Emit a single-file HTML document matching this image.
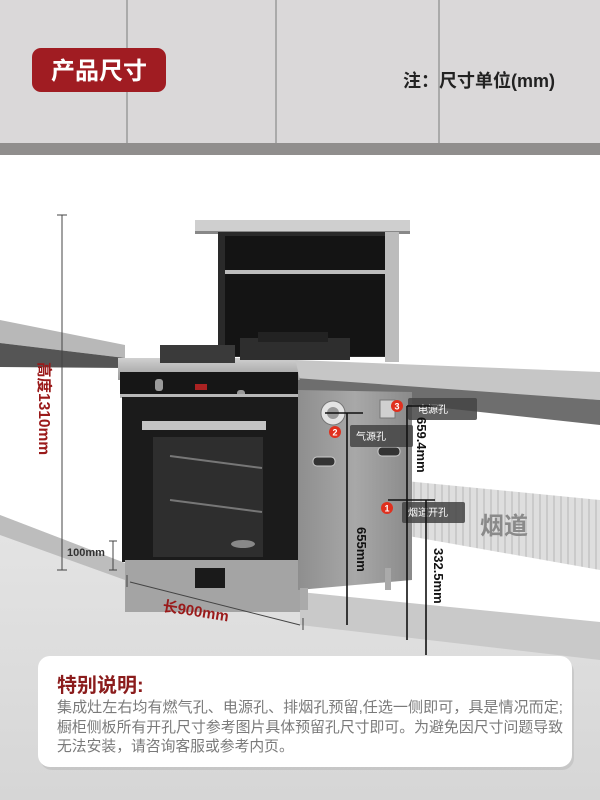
<!DOCTYPE html>
<html><head><meta charset="utf-8"><style>
html,body{margin:0;padding:0;background:#fff}
svg{display:block}
text{font-family:"Liberation Sans","Noto Sans CJK SC",sans-serif}
</style></head><body>
<svg width="600" height="800" viewBox="0 0 600 800" xmlns="http://www.w3.org/2000/svg">
<defs>
<linearGradient id="side" x1="0" x2="1"><stop offset="0" stop-color="#8e8e8e"/><stop offset="0.5" stop-color="#a8a8a8"/><stop offset="1" stop-color="#8a8a8a"/></linearGradient>
<linearGradient id="steel" x1="0" y1="0" x2="0" y2="1"><stop offset="0" stop-color="#d0d0d0"/><stop offset="1" stop-color="#9a9a9a"/></linearGradient>
<linearGradient id="floor" x1="0" y1="0" x2="0" y2="1"><stop offset="0" stop-color="#e4e4e4"/><stop offset="1" stop-color="#d6d6d6"/></linearGradient>
<pattern id="duct" width="7" height="10" patternUnits="userSpaceOnUse"><rect width="7" height="10" fill="#dedede"/><rect width="2" height="10" fill="#cacaca"/></pattern>
</defs>
<rect x="0" y="0" width="600" height="145" fill="#dad8d9"/>
<rect x="0" y="143" width="600" height="12" fill="#908e8d"/>
<line x1="127" y1="0" x2="127" y2="143" stroke="#9a9a9a" stroke-width="1.5"/>
<line x1="276" y1="0" x2="276" y2="143" stroke="#9a9a9a" stroke-width="1.5"/>
<line x1="439" y1="0" x2="439" y2="143" stroke="#9a9a9a" stroke-width="1.5"/>
<rect x="32" y="48" width="134" height="44" rx="9" fill="#a01c22"/>
<text x="99" y="79" text-anchor="middle" font-size="24" font-weight="bold" fill="#fff">产品尺寸</text>
<text x="403" y="87" font-size="18" font-weight="bold" fill="#222">注：尺寸单位(mm)</text>

<polygon points="0,515 125,563 300,600 600,640 600,800 0,800" fill="url(#floor)"/>
<polygon points="0,515 125,563 125,580 0,535" fill="#bdbdbd"/>
<polygon points="300,592 600,622 600,660 300,625" fill="#c9c9c9"/>

<polygon points="0,320 125,345 125,358 0,343" fill="#b8b8b8"/>
<polygon points="0,343 125,358 125,368 0,367" fill="#555"/>
<polygon points="295,360 600,372 600,400 295,380" fill="#c6c6c6"/>
<polygon points="295,378 600,400 600,425 295,392" fill="#6e6e6e"/>

<polygon points="375,478 600,500 600,570 375,530" fill="url(#duct)"/>
<ellipse cx="378" cy="504" rx="10" ry="27" fill="#e2e2e2" stroke="#c4c4c4"/>
<text x="480" y="534" font-size="24" font-weight="bold" fill="#8a8a8a">烟道</text>

<rect x="195" y="220" width="215" height="13" fill="#cfcfcf"/>
<rect x="195" y="231" width="215" height="3" fill="#888"/>
<rect x="218" y="232" width="170" height="125" fill="#2a2a2a"/>
<rect x="225" y="236" width="160" height="120" fill="#141414"/>
<rect x="225" y="270" width="160" height="4" fill="#bdbdbd"/>
<rect x="385" y="232" width="14" height="130" fill="#bcbcbc"/>
<polygon points="118,358 295,358 300,380 118,380" fill="url(#steel)"/>
<rect x="160" y="345" width="75" height="18" fill="#3a3a3a"/>
<rect x="240" y="338" width="110" height="22" fill="#2e2e2e"/>
<rect x="258" y="332" width="70" height="10" fill="#222"/>
<rect x="120" y="372" width="178" height="24" fill="#161616"/>
<rect x="155" y="379" width="8" height="12" rx="3" fill="#9a9a9a"/>
<rect x="237" y="390" width="8" height="12" rx="3" fill="#9a9a9a"/>
<rect x="195" y="384" width="12" height="6" fill="#a22"/>
<rect x="120" y="394" width="178" height="4" fill="#b8b8b8"/>
<rect x="122" y="397" width="176" height="165" fill="#1b1b1b"/>
<rect x="142" y="421" width="124" height="9" fill="#c4c4c4"/>
<rect x="153" y="437" width="110" height="120" fill="#2e2e2e"/>
<line x1="170" y1="456" x2="262" y2="468" stroke="#777" stroke-width="2"/>
<line x1="170" y1="500" x2="262" y2="512" stroke="#777" stroke-width="2"/>
<ellipse cx="243" cy="544" rx="12" ry="4" fill="#888"/>
<rect x="125" y="560" width="175" height="52" fill="#a4a4a4"/>
<rect x="195" y="568" width="30" height="20" fill="#1a1a1a"/>
<polygon points="298,390 412,392 412,580 298,590" fill="url(#side)"/>
<circle cx="333" cy="413" r="12" fill="#e4e4e4" stroke="#777"/>
<circle cx="333" cy="413" r="6" fill="#999"/>
<rect x="313" y="457" width="22" height="9" rx="4" fill="#333" stroke="#ccc"/>
<rect x="378" y="447" width="22" height="9" rx="4" fill="#333" stroke="#ccc"/>
<rect x="380" y="400" width="15" height="18" fill="#d0d0d0" stroke="#777"/>
<rect x="385" y="568" width="6" height="22" fill="#aaa"/>
<rect x="300" y="588" width="8" height="22" fill="#aaa"/>

<rect x="408" y="398" width="69" height="22" rx="2" fill="#444" opacity="0.85"/>
<text x="418" y="413" font-size="10" fill="#fff">电源孔</text>
<rect x="350" y="425" width="63" height="22" rx="2" fill="#444" opacity="0.85"/>
<text x="356" y="440" font-size="10" fill="#fff">气源孔</text>
<rect x="402" y="502" width="63" height="21" rx="2" fill="#444" opacity="0.85"/>
<text x="408" y="516" font-size="10" fill="#fff">烟道开孔</text>
<circle cx="397" cy="406" r="6" fill="#e0301e"/><text x="397" y="409.5" font-size="9" font-weight="bold" fill="#fff" text-anchor="middle">3</text>
<circle cx="335" cy="432" r="6" fill="#e0301e"/><text x="335" y="435.5" font-size="9" font-weight="bold" fill="#fff" text-anchor="middle">2</text>
<circle cx="387" cy="508" r="6" fill="#e0301e"/><text x="387" y="511.5" font-size="9" font-weight="bold" fill="#fff" text-anchor="middle">1</text>

<g stroke="#111" stroke-width="1.6">
<line x1="325" y1="413" x2="363" y2="413"/>
<line x1="347" y1="413" x2="347" y2="625"/>
<line x1="407" y1="406" x2="437" y2="406"/>
<line x1="407" y1="406" x2="407" y2="640"/>
<line x1="388" y1="500" x2="435" y2="500"/>
<line x1="426" y1="500" x2="426" y2="655"/>
</g>
<g stroke="#444" stroke-width="1">
<line x1="62" y1="215" x2="62" y2="570"/>
<line x1="57" y1="215" x2="67" y2="215"/>
<line x1="57" y1="570" x2="67" y2="570"/>
<line x1="113" y1="541" x2="113" y2="570"/>
<line x1="109" y1="541" x2="117" y2="541"/>
<line x1="109" y1="570" x2="117" y2="570"/>
<line x1="130" y1="582" x2="300" y2="625"/>
<line x1="127" y1="575" x2="127" y2="587"/>
<line x1="303" y1="618" x2="303" y2="630"/>
</g>
<text transform="translate(357,527) rotate(90)" font-size="13" font-weight="bold" fill="#111">655mm</text>
<text transform="translate(417,417) rotate(90)" font-size="13" font-weight="bold" fill="#111">659.4mm</text>
<text transform="translate(434,548) rotate(90)" font-size="13" font-weight="bold" fill="#111">332.5mm</text>
<text transform="translate(39,362) rotate(90)" font-size="15.5" font-weight="bold" fill="#9a1a1a">高度1310mm</text>
<text x="67" y="556" font-size="11" font-weight="bold" fill="#333">100mm</text>
<text transform="translate(162,611) rotate(9)" font-size="15" font-weight="bold" fill="#9a1a1a">长900mm</text>

<rect x="40" y="660" width="534" height="110" rx="12" fill="#000" opacity="0.08"/>
<rect x="38" y="656" width="534" height="111" rx="12" fill="#fff"/>
<text x="57" y="692" font-size="20" font-weight="bold" fill="#8b1c1c">特别说明:</text>
<g font-size="14.8" fill="#7a7a7a">
<text x="57" y="712" textLength="506" lengthAdjust="spacingAndGlyphs">集成灶左右均有燃气孔、电源孔、排烟孔预留,任选一侧即可，具是情况而定;</text>
<text x="57" y="732" textLength="506" lengthAdjust="spacingAndGlyphs">橱柜侧板所有开孔尺寸参考图片具体预留孔尺寸即可。为避免因尺寸问题导致</text>
<text x="57" y="751">无法安装，请咨询客服或参考内页。</text>
</g>
</svg>
</body></html>
